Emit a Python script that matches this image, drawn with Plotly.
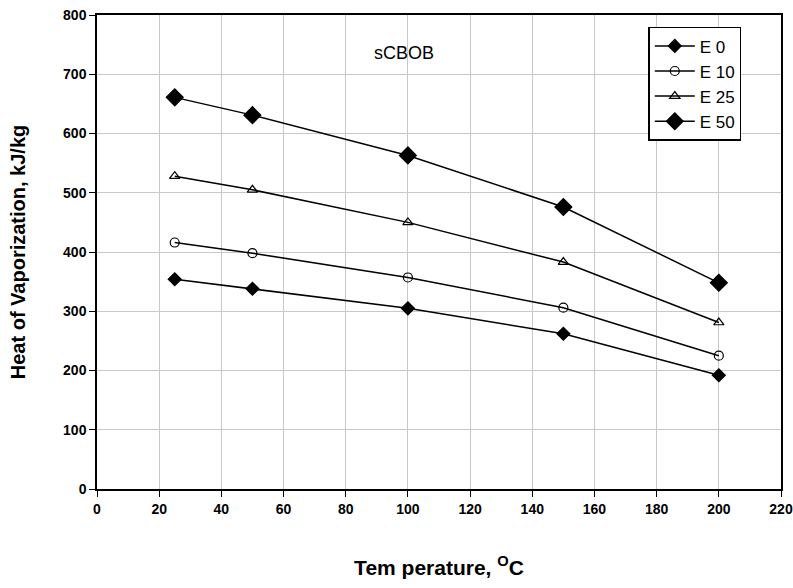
import plotly.graph_objects as go

temps = [25, 50, 100, 150, 200]
e0 = [354, 338, 305, 262, 192]
e10 = [416, 398, 357, 306, 225]
e25 = [528, 505, 450, 383, 281]
e50 = [661, 631, 563, 476, 348]

series = [
    ("E 0", e0, "diamond", 10, "black"),
    ("E 10", e10, "circle-open", 9, "black"),
    ("E 25", e25, "triangle-up-open", 9, "black"),
    ("E 50", e50, "diamond", 13, "black"),
]

fig = go.Figure()
for name, vals, sym, size, col in series:
    fig.add_trace(go.Scatter(
        x=temps, y=vals, name=name, mode="lines+markers",
        line=dict(color="black", width=1.5),
        marker=dict(symbol=sym, size=size, color=col,
                    line=dict(color="black", width=1.2)),
    ))

tickfont = dict(family="Liberation Sans Narrow, Arial Narrow, Arial", size=14,
                color="black", weight="bold")
fig.update_layout(
    width=793, height=588,
    margin=dict(l=97, r=12, t=15, b=99),
    plot_bgcolor="white", paper_bgcolor="white",
    showlegend=True,
    legend=dict(x=0.806, y=0.975, xanchor="left", yanchor="top",
                bgcolor="white", bordercolor="black", borderwidth=1.5,
                font=dict(family="Arial, Liberation Sans", size=17, color="black"),
                tracegroupgap=0, itemwidth=40),
    xaxis=dict(range=[0, 220], dtick=20, tick0=0, showgrid=True, automargin=False,
               ticklabeloverflow="allow",
               gridcolor="#c8c8c8", gridwidth=1, showline=True, linecolor="black",
               linewidth=1.5, mirror=True, ticks="outside", ticklen=6,
               tickcolor="black", tickfont=tickfont, zeroline=False,
               title=dict(text="<b>Tem perature, <sup>O</sup>C</b>",
                          font=dict(family="Arial, Liberation Sans", size=21, color="black"),
                          standoff=45)),
    yaxis=dict(range=[0, 800], dtick=100, tick0=0, showgrid=True, automargin=False,
               ticklabeloverflow="allow",
               gridcolor="#c8c8c8", gridwidth=1, showline=True, linecolor="black",
               linewidth=1.5, mirror=True, ticks="outside", ticklen=6,
               tickcolor="black", tickfont=tickfont, zeroline=False,
               title=dict(text="<b>Heat of Vaporization, kJ/kg</b>",
                          font=dict(family="Arial, Liberation Sans", size=20, color="black"),
                          standoff=32)),
    annotations=[dict(text="sCBOB", x=0.449, y=0.945, xref="paper", yref="paper",
                      showarrow=False,
                      font=dict(family="Arial, Liberation Sans", size=18, color="black"))],
)

fig.write_html("out.html")
